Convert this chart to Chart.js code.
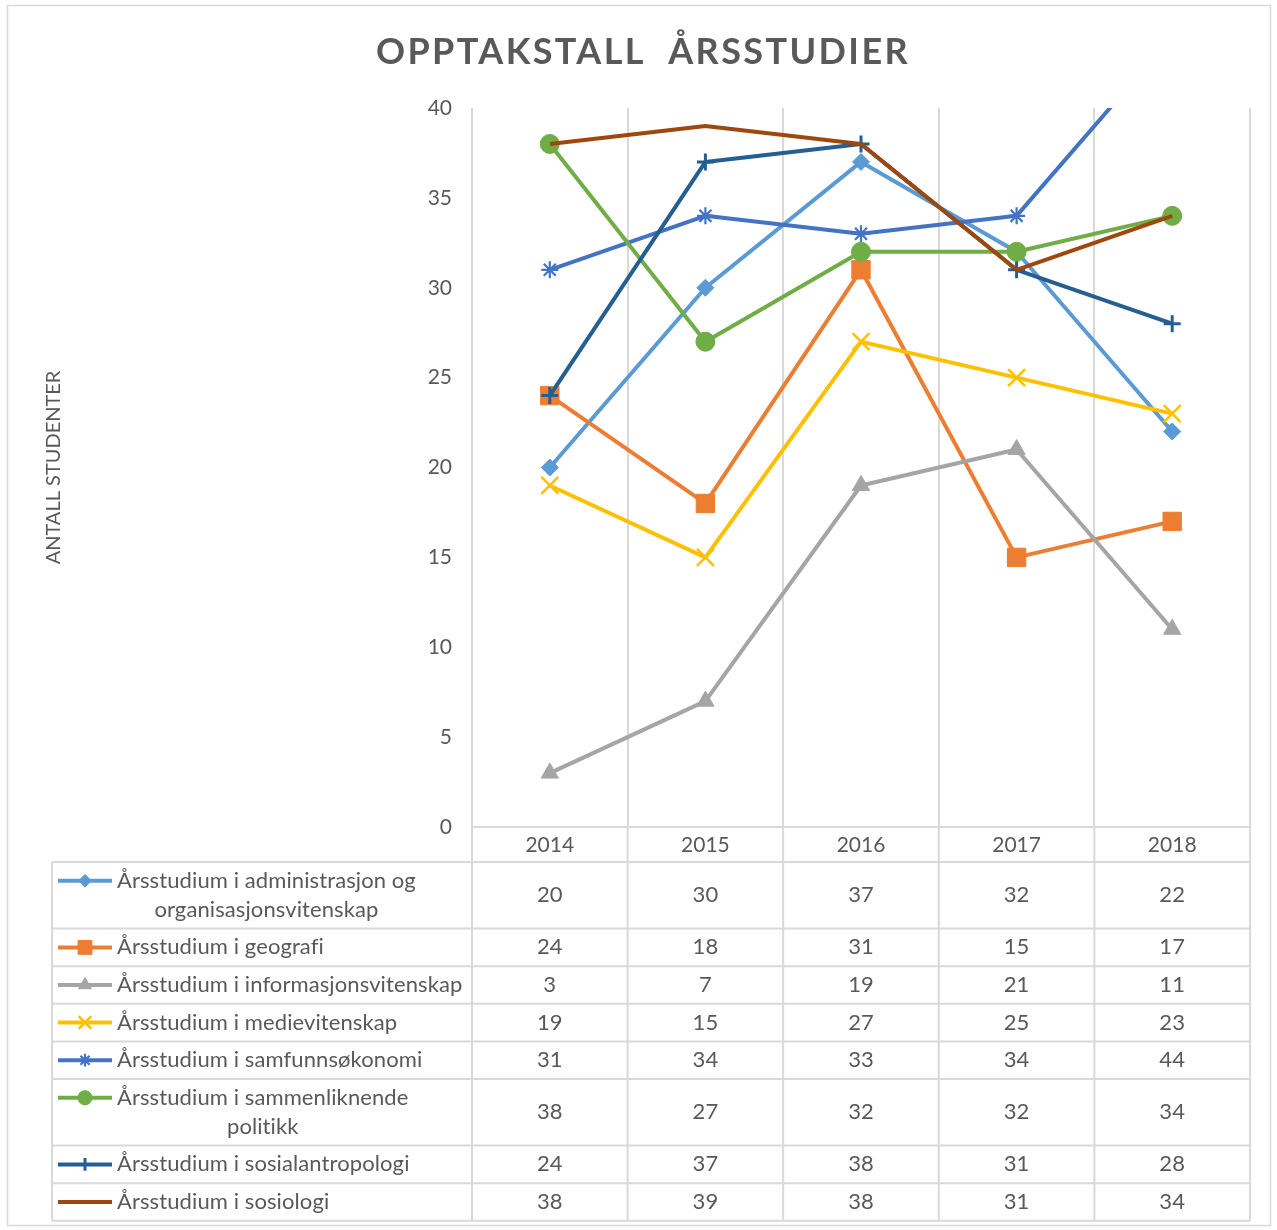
<!DOCTYPE html>
<html>
<head>
<meta charset="utf-8">
<script src="https://cdn.jsdelivr.net/npm/chart.js@4.4.0/dist/chart.umd.min.js"></script>
<style>
    html, body { margin: 0; padding: 0; background: #fff; }
</style>
</head>
<body>
<canvas id="chartOpptak" width="1277" height="1230"></canvas>
<script>
// Data
const years = ['2014', '2015', '2016', '2017', '2018'];
const seriesNames = [
    ['Årsstudium i administrasjon og', 'organisasjonsvitenskap'],
    ['Årsstudium i geografi'],
    ['Årsstudium i informasjonsvitenskap'],
    ['Årsstudium i medievitenskap'],
    ['Årsstudium i samfunnsøkonomi'],
    ['Årsstudium i sammenliknende', 'politikk'],
    ['Årsstudium i sosialantropologi'],
    ['Årsstudium i sosiologi']
];
const administrasjon = [20, 30, 37, 32, 22];
const geografi = [24, 18, 31, 15, 17];
const informasjon = [3, 7, 19, 21, 11];
const medie = [19, 15, 27, 25, 23];
const samfunnsokonomi = [31, 34, 33, 34, 44];
const sammenliknende = [38, 27, 32, 32, 34];
const sosialantropologi = [24, 37, 38, 31, 28];
const sosiologi = [38, 39, 38, 31, 34];
const yMin = 0;
const yMax = 40;
const yStep = 5;

const seriesValues = [administrasjon, geografi, informasjon, medie, samfunnsokonomi, sammenliknende, sosialantropologi, sosiologi];

// Utseende
const colors = ['#5B9BD5', '#ED7D31', '#A5A5A5', '#FFC000', '#4472C4', '#70AD47', '#255E91', '#9E480E'];
const markers = [
    { style: 'rectRot', radius: 8.5, border: 1 },
    { style: 'rect', radius: 13, border: 1 },
    { style: 'triangle', radius: 10, border: 1 },
    { style: 'crossRot', radius: 12, border: 2.5 },
    { style: 'star', radius: 8.5, border: 2.2 },
    { style: 'circle', radius: 9.5, border: 1 },
    { style: 'cross', radius: 8.5, border: 3 },
    { style: 'circle', radius: 0, border: 0 }
];
const textColor = '#595959';
const gridColor = '#D9D9D9';
const fontFamily = 'Lato, "Open Sans", sans-serif';

// Tittel og ramme
const tittelPlugin = {
    id: 'tittel',
    beforeDraw(chart) {
        const ctx = chart.ctx;
        ctx.save();
        ctx.fillStyle = '#fff';
        ctx.fillRect(0, 0, chart.width, chart.height);
        ctx.strokeStyle = gridColor;
        ctx.lineWidth = 1.5;
        ctx.strokeRect(7.5, 5.5, 1263, 1220);
        ctx.fillStyle = textColor;
        ctx.font = 'bold 36px ' + fontFamily;
        ctx.letterSpacing = '2.4px';
        ctx.textAlign = 'center';
        ctx.textBaseline = 'middle';
        ctx.fillText('OPPTAKSTALL  ÅRSSTUDIER', 643, 52);
        ctx.restore();
    }
};

// Datatabell under diagrammet
const tabellPlugin = {
    id: 'tabell',
    afterDraw(chart) {
        const { ctx, chartArea } = chart;
        const x = chart.scales.x;
        const half = (x.getPixelForValue(1) - x.getPixelForValue(0)) / 2;
        const labelLeft = 52;
        const tableTop = x.bottom;
        const baseH = 37.6;
        const lineH = 29;

        ctx.save();
        ctx.font = '22px ' + fontFamily;
        ctx.letterSpacing = '0.1px';  // slår av fi-ligaturer
        ctx.textBaseline = 'middle';

        let y = tableTop;
        const rowTops = [];
        seriesNames.forEach((lines) => {
            const h = baseH + (lines.length - 1) * lineH;
            rowTops.push([y, h]);
            y += h;
        });
        const tableBottom = y;

        // Linjer
        ctx.strokeStyle = gridColor;
        ctx.lineWidth = 2;
        ctx.beginPath();
        for (let i = 0; i <= years.length; i++) {
            const bx = x.getPixelForValue(0) - half + i * half * 2;
            ctx.moveTo(bx, chartArea.bottom);
            ctx.lineTo(bx, tableBottom);
        }
        ctx.moveTo(labelLeft, tableTop);
        ctx.lineTo(labelLeft, tableBottom);
        rowTops.forEach(([top]) => {
            ctx.moveTo(labelLeft, top);
            ctx.lineTo(chartArea.right, top);
        });
        ctx.moveTo(labelLeft, tableBottom);
        ctx.lineTo(chartArea.right, tableBottom);
        ctx.stroke();

        // Tekst og verdier
        seriesNames.forEach((lines, i) => {
            const [top, h] = rowTops[i];
            const firstY = top + baseH / 2;
            const textX = 117;
            const widths = lines.map(l => ctx.measureText(l).width);
            const maxW = Math.max(...widths);

            ctx.fillStyle = textColor;
            lines.forEach((line, j) => {
                if (j === 0) {
                    ctx.textAlign = 'left';
                    ctx.fillText(line, textX, firstY);
                } else {
                    ctx.textAlign = 'center';
                    ctx.fillText(line, textX + maxW / 2, firstY + j * lineH);
                }
            });

            // Forklaringsnøkkel
            ctx.strokeStyle = colors[i];
            ctx.fillStyle = colors[i];
            ctx.lineWidth = 4;
            ctx.beginPath();
            ctx.moveTo(58, firstY);
            ctx.lineTo(112, firstY);
            ctx.stroke();
            if (markers[i].radius > 0) {
                ctx.lineWidth = markers[i].border;
                Chart.helpers.drawPoint(ctx, {
                    pointStyle: markers[i].style,
                    radius: markers[i].radius * 0.75,
                    rotation: 0,
                    borderWidth: markers[i].border
                }, 85, firstY);
            }

            ctx.fillStyle = textColor;
            ctx.textAlign = 'center';
            seriesValues[i].forEach((v, k) => {
                ctx.fillText(String(v), x.getPixelForValue(k), top + h / 2);
            });
        });
        ctx.restore();
    }
};

const datasets = seriesValues.map((values, i) => ({
    label: seriesNames[i].join(' '),
    data: values,
    borderColor: colors[i],
    backgroundColor: colors[i],
    borderWidth: 4,
    borderJoinStyle: 'round',
    tension: 0,
    pointStyle: markers[i].style,
    pointRadius: markers[i].radius,
    pointHoverRadius: markers[i].radius,
    pointBorderWidth: markers[i].border,
    pointBackgroundColor: colors[i],
    pointBorderColor: colors[i],
    order: seriesValues.length - i
}));

new Chart(document.getElementById('chartOpptak'), {
    type: 'line',
    data: { labels: years, datasets: datasets },
    options: {
        responsive: false,
        animation: false,
        layout: { padding: { top: 108, left: 40, right: 27, bottom: 368 } },
        plugins: {
            legend: { display: false },
            tooltip: { enabled: false }
        },
        scales: {
            x: {
                offset: true,
                grid: { offset: true, color: gridColor, lineWidth: 2, drawTicks: false },
                border: { display: true, color: gridColor, width: 2 },
                ticks: { color: textColor, font: { family: fontFamily, size: 21 }, padding: 6 },
                afterFit: (scale) => { scale.height = 35; }
            },
            y: {
                min: yMin,
                max: yMax,
                grid: { display: false, drawTicks: false },
                border: { display: false },
                ticks: { stepSize: yStep, color: textColor, font: { family: fontFamily, size: 21 }, padding: 20 },
                title: {
                    display: true,
                    text: 'ANTALL STUDENTER',
                    color: textColor,
                    font: { family: fontFamily, size: 20 },
                    padding: { top: 2, bottom: 0 }
                },
                afterFit: (scale) => { scale.width = 432; }
            }
        }
    },
    plugins: [tittelPlugin, tabellPlugin]
});
</script>
</body>
</html>
